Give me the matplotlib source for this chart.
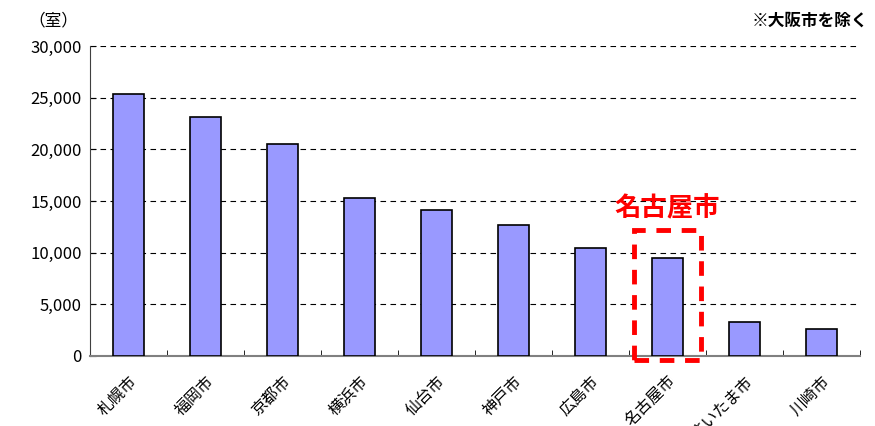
import matplotlib.pyplot as plt
from matplotlib.patches import Rectangle
import matplotlib.transforms as mtransforms
import numpy as np

plt.rcParams['font.family'] = ['Noto Sans CJK JP', 'DejaVu Sans']

cities = ['札幌市', '福岡市', '京都市', '横浜市', '仙台市', '神戸市', '広島市', '名古屋市', 'さいたま市', '川崎市']
rooms = [25400, 23100, 20550, 15300, 14100, 12700, 10450, 9500, 3300, 2600]
yticks = [0, 5000, 10000, 15000, 20000, 25000, 30000]
highlight = '名古屋市'

fig = plt.figure(figsize=(8.75, 4.26), dpi=100)
ax = fig.add_axes([90/875, 1-356/426, 770/875, 310/426])

x = np.arange(len(cities))
ax.bar(x, rooms, width=0.4, color='#9999FF', edgecolor='black', linewidth=1.2, zorder=3)
ax.set_xlim(-0.5, len(cities)-0.5)
ax.set_ylim(0, 30000)
ax.set_yticks(yticks)
ax.set_yticklabels([f'{v:,}' for v in yticks], fontsize=12)
for v in yticks[1:]:
    ax.axhline(v, color='black', linestyle=(0, (5, 4)), linewidth=0.8, zorder=1)

ax.set_xticks(x)
labels = ax.set_xticklabels(cities, rotation=45, ha='right', rotation_mode='anchor', fontsize=11.5)
offset = mtransforms.ScaledTranslation(12/100, 0, fig.dpi_scale_trans)
for lab in labels:
    lab.set_transform(lab.get_transform() + offset)
ax.set_xticks(np.arange(-0.5, len(cities)), minor=True)
ax.tick_params(axis='x', which='major', length=0, pad=12)
ax.tick_params(axis='x', which='minor', length=4, direction='in')
ax.tick_params(axis='y', length=4, direction='in', pad=6)
for s in ['top', 'right']:
    ax.spines[s].set_visible(False)
ax.spines['bottom'].set_color('#808080')
ax.spines['bottom'].set_linewidth(1.5)
ax.spines['left'].set_color('#404040')

hi = cities.index(highlight)
rect = Rectangle((hi-0.43, -400), 0.86, 12600, fill=False, edgecolor='red',
                 linestyle=(0, (3, 2.2)), linewidth=3.5, clip_on=False, zorder=4)
ax.add_patch(rect)
ax.text(hi, 12900, highlight, color='red', fontsize=19, fontweight='bold', ha='center', va='bottom')

fig.text(28/875, 1-21/426, '（室）', fontsize=12, ha='left', va='center')
fig.text(868/875, 1-21/426, '※大阪市を除く', fontsize=12, fontweight='bold', ha='right', va='center')

fig.savefig('out.png', dpi=100)
